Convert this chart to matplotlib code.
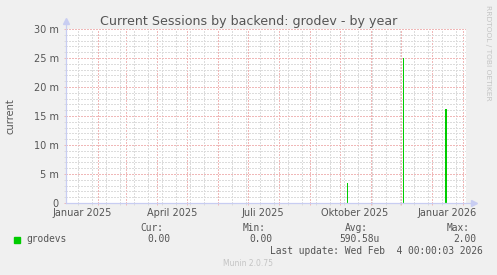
import datetime as dt
import matplotlib
matplotlib.use('Agg')
import matplotlib.pyplot as plt
import matplotlib.transforms as mtransforms
from matplotlib.patches import Rectangle
import numpy as np
import pandas as pd

# data
spike_dates = ['2025-10-08', '2025-12-03', '2026-01-14', '2026-01-15']
spike_values = [0.0034, 0.025, 0.0162, 0.0162]   # sessions (shown in milli)

label_dates = ['2025-01-16', '2025-04-16', '2025-07-16', '2025-10-16', '2026-01-16']
label_texts = ['Januar 2025', 'April 2025', 'Juli 2025', 'Oktober 2025', 'Januar 2026']

y_major = [0, 0.005, 0.010, 0.015, 0.020, 0.025, 0.030]
y_labels = ['0', '5 m', '10 m', '15 m', '20 m', '25 m', '30 m']

legend_name = 'grodevs'
legend_heads = ['Cur:', 'Min:', 'Avg:', 'Max:']
legend_vals = ['0.00', '0.00', '590.58u', '2.00']
last_update = 'Last update: Wed Feb  4 00:00:03 2026'

GREEN = '#00CC00'
TXT = '#555555'
AXIS = '#C8CDF2'
MGRID = '#F0B8B8'
GRID = '#DCDCDC'

W, H = 497, 275
fig = plt.figure(figsize=(W / 100, H / 100), dpi=100, facecolor='#F0F0F0')
ax = fig.add_axes([66 / W, 72 / H, 400 / W, 174 / H])
ax.set_facecolor('white')

end = dt.datetime(2026, 2, 4, 0, 0, 3)
start = end - dt.timedelta(days=400)
ax.set_xlim(start, end)
ax.set_ylim(0, 0.030)

ax.bar(pd.to_datetime(spike_dates), spike_values, width=1.0, align='edge',
       color=GREEN, linewidth=0, antialiased=False, zorder=3)

# grid: months red, two-week steps grey
months = pd.date_range('2025-02-01', '2026-02-01', freq='MS')
weeks = pd.date_range('2025-01-12', end, freq='14D')
ax.set_xticks(months)
ax.set_xticks(weeks, minor=True)
ax.set_xticklabels([])
ax.set_yticks(y_major)
ax.set_yticklabels(y_labels)
ax.set_yticks(np.arange(0, 0.0301, 0.001), minor=True)
ax.set_axisbelow(True)
dots = (0, (1.5, 1.5))
ax.grid(which='minor', color=GRID, linestyle=dots, linewidth=0.72, antialiased=False)
ax.grid(which='major', color=MGRID, linestyle=dots, linewidth=0.72, antialiased=False)

ax.tick_params(which='major', length=1.5, width=0.72, color=MGRID, labelsize=7,
               labelcolor=TXT, pad=3.8)
ax.tick_params(which='minor', length=1.5, width=0.72, color=GRID)
for s in ax.spines.values():
    s.set_visible(False)

# axis lines with arrow heads
ax.plot([0, 1 + 8 / 400], [0, 0], color=AXIS, lw=0.9, transform=ax.transAxes,
        clip_on=False, zorder=5)
ax.plot([0, 0], [0, 1 + 8 / 174], color=AXIS, lw=0.9, transform=ax.transAxes,
        clip_on=False, zorder=5)
ax.plot([1 + 8 / 400], [0], marker='>', ms=4, color=AXIS, mec=AXIS,
        transform=ax.transAxes, clip_on=False, zorder=5)
ax.plot([0], [1 + 8 / 174], marker='^', ms=4, color=AXIS, mec=AXIS,
        transform=ax.transAxes, clip_on=False, zorder=5)

trans = mtransforms.blended_transform_factory(ax.transData, ax.transAxes)
for d, t in zip(pd.to_datetime(label_dates), label_texts):
    ax.text(d, -9.8 / 174, t, transform=trans, ha='center', va='center',
            fontsize=7, color=TXT)

fig.text(0.5, 1 - 25 / H, 'Current Sessions by backend: grodev - by year',
         ha='center', va='baseline', fontsize=9.1, color=TXT)
fig.text(11 / W, 1 - 116 / H, 'current', rotation=90, ha='center', va='center',
         fontsize=7.1, color=TXT)
fig.text(488 / W, 1 - 5 / H, 'RRDTOOL / TOBI OETIKER', rotation=270,
         ha='center', va='top', fontsize=5.4, color='#C4C4C4')
fig.text(248 / W, 1 - 264 / H, 'Munin 2.0.75', ha='center', va='center',
         fontsize=5.5, color='#C4C4C4')

# legend block
mono = dict(family='DejaVu Sans Mono', fontsize=6.9, color=TXT)
for x, t in zip([163.5, 266, 368.3, 470], legend_heads):
    fig.text(x / W, 1 - 228 / H, t, ha='right', va='center', **mono)
for x, t in zip([170, 272, 380, 476.7], legend_vals):
    fig.text(x / W, 1 - 239.5 / H, t, ha='right', va='center', **mono)
fig.patches.append(Rectangle((14 / W, 1 - 243 / H), 6 / W, 6 / H,
                             transform=fig.transFigure, color=GREEN))
fig.text(26 / W, 1 - 239.5 / H, legend_name, ha='left', va='center', **mono)
fig.text(482.3 / W, 1 - 251 / H, last_update, ha='right', va='center', **mono)

fig.savefig('out.png', dpi=100, facecolor=fig.get_facecolor())
